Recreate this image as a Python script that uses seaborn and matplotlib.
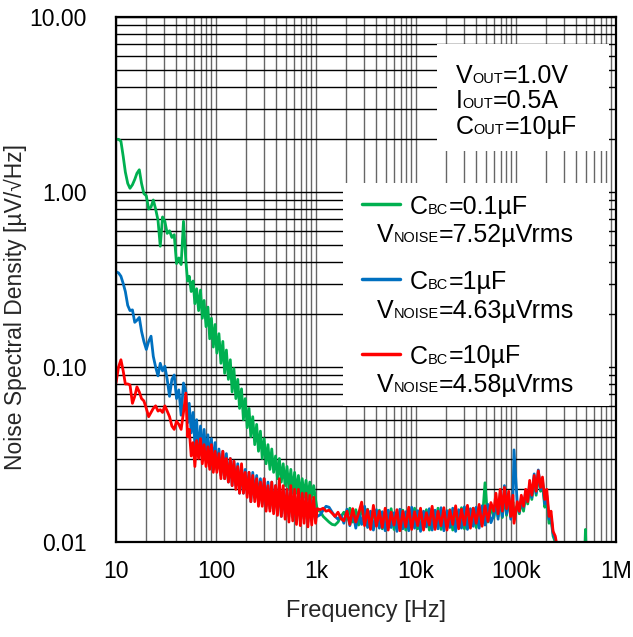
import matplotlib
matplotlib.use('Agg')
import matplotlib.pyplot as plt
from matplotlib import ticker
from matplotlib.patches import Rectangle
from matplotlib.lines import Line2D
from matplotlib.transforms import IdentityTransform
import pandas as pd
import seaborn as sns

# frequency points [Hz], shared by the three traces
freq = [
    # 10 - 50 Hz
    10, 10.6, 11.2, 11.8, 12.4, 13.1, 13.8, 14.6, 15.4, 16.2, 17.1, 18.0, 19.0, 20.1, 21.2,
    22.4, 23.6, 24.9, 26.3, 27.7, 29.2, 30.8, 32.5, 34.3, 36.2, 38.2, 40.3, 42.5, 44.8, 47.3,
    # 50 Hz - 1 kHz
    50, 52, 54, 56.5, 59, 61.5, 64, 67, 70, 73, 76, 79.5, 83, 86.5, 90, 94, 98, 102, 107, 112,
    117, 122, 127, 133, 139, 145, 151, 158, 165, 172, 180, 188, 196, 205, 214, 223, 233, 244, 255, 266,
    278, 290, 303, 317, 331, 346, 361, 377, 394, 412, 430, 450, 470, 491, 513, 536, 560, 585, 611, 638,
    667, 697, 728, 760, 795, 830, 867, 906, 947, 990,
    # 1 kHz - 56 kHz
    1030, 1100, 1180, 1260, 1350, 1450, 1550, 1660, 1780, 1900, 2040, 2180, 2330, 2500, 2670,
    2860, 3060, 3280, 3510, 3750, 4020, 4300, 4600, 4920, 5270, 5640, 6030, 6450, 6900, 7390,
    7900, 8460, 9050, 9680, 10400, 11100, 11900, 12700, 13600, 14500, 15500, 16600, 17800, 19000, 20400,
    21800, 23300, 24900, 26700, 28500, 30500, 32700, 35000, 37400, 40000, 42800, 45800, 49000, 52400, 56100,
    # 60 kHz - 260 kHz
    60000, 63000, 66200, 69500, 73000, 76600, 80400, 84500, 88700, 93100, 95500, 103000, 108000, 113000, 119000,
    125000, 131000, 137000, 144000, 152000, 159000, 167000, 176000, 184000, 194000, 203000, 214000, 224000, 235000, 247000,
    260000,
    # tail
    280000, 350000, 480000, 495000, 510000, 700000,
]

nsd_cbc_01 = [
    2.00, 2.00, 1.95, 1.60, 1.30, 1.12, 1.05, 1.10, 1.18, 1.28, 1.34, 1.12, 0.98, 0.95, 0.80,
    0.82, 0.90, 0.80, 0.69, 0.49, 0.72, 0.68, 0.58, 0.60, 0.55, 0.57, 0.39, 0.42, 0.385, 0.68,
    0.40, 0.31, 0.33, 0.27, 0.31, 0.23, 0.28, 0.21, 0.275, 0.19, 0.24, 0.17, 0.22, 0.145, 0.19, 0.13, 0.175, 0.12, 0.155, 0.105,
    0.14, 0.092, 0.125, 0.085, 0.11, 0.072, 0.098, 0.066, 0.085, 0.058, 0.075, 0.050, 0.066, 0.045, 0.058, 0.040, 0.052, 0.036, 0.047, 0.033,
    0.043, 0.030, 0.039, 0.028, 0.036, 0.026, 0.034, 0.025, 0.031, 0.023, 0.030, 0.022, 0.028, 0.021, 0.027, 0.020, 0.026, 0.019, 0.025, 0.019,
    0.024, 0.018, 0.023, 0.018, 0.0225, 0.0175, 0.022, 0.018, 0.021, 0.0175,
    0.0152, 0.0150, 0.0140, 0.0135, 0.0130, 0.0126, 0.0125, 0.0130, 0.0140, 0.0148, 0.0135, 0.0156, 0.0130, 0.0153, 0.0125,
    0.0160, 0.0130, 0.0154, 0.0122, 0.0150, 0.0125, 0.0152, 0.0119, 0.0147, 0.0123, 0.0155, 0.0118, 0.0146, 0.0122, 0.0152,
    0.0117, 0.0147, 0.0122, 0.0156, 0.0119, 0.0149, 0.0121, 0.0153, 0.0117, 0.0146, 0.0122, 0.0156, 0.0118, 0.0148, 0.0123,
    0.0153, 0.0117, 0.0146, 0.0122, 0.0157, 0.0119, 0.0151, 0.0123, 0.0156, 0.0121, 0.0154, 0.0128, 0.0218, 0.0130, 0.0158,
    0.0138, 0.0165, 0.0140, 0.0180, 0.0138, 0.0190, 0.0142, 0.0180, 0.0138, 0.0170, 0.0150, 0.0160, 0.0145, 0.0172, 0.0150,
    0.0185, 0.0165, 0.0205, 0.0175, 0.0230, 0.0185, 0.0250, 0.0195, 0.0215, 0.0158, 0.0175, 0.0128, 0.0135, 0.0108, 0.0100,
    0.0086,
    0.0080, 0.0070, 0.0068, 0.0118, 0.0068, 0.0060,
]

nsd_cbc_1 = [
    0.350, 0.345, 0.330, 0.300, 0.270, 0.225, 0.210, 0.212, 0.180, 0.185, 0.192, 0.160, 0.140, 0.126, 0.140,
    0.150, 0.115, 0.100, 0.089, 0.105, 0.095, 0.101, 0.085, 0.068, 0.085, 0.090, 0.066, 0.074, 0.053, 0.081,
    0.072, 0.048, 0.062, 0.042, 0.055, 0.036, 0.050, 0.031, 0.046, 0.030, 0.044, 0.030, 0.041, 0.027, 0.039, 0.026, 0.037, 0.026, 0.034, 0.024,
    0.033, 0.023, 0.032, 0.022, 0.030, 0.021, 0.029, 0.021, 0.028, 0.019, 0.027, 0.019, 0.026, 0.019, 0.025, 0.017, 0.025, 0.018, 0.024, 0.017,
    0.023, 0.0165, 0.023, 0.016, 0.022, 0.0155, 0.022, 0.015, 0.021, 0.015, 0.021, 0.0140, 0.020, 0.0145, 0.020, 0.0140, 0.020, 0.0138, 0.019, 0.0135,
    0.019, 0.0132, 0.019, 0.0136, 0.018, 0.0130, 0.0175, 0.0134, 0.017, 0.0138,
    0.0140, 0.0143, 0.0152, 0.0160, 0.0158, 0.0148, 0.0140, 0.0135, 0.0142, 0.0128, 0.0154, 0.0124, 0.0151, 0.0120, 0.0148,
    0.0126, 0.0160, 0.0121, 0.0150, 0.0117, 0.0153, 0.0120, 0.0149, 0.0116, 0.0152, 0.0121, 0.0147, 0.0115, 0.0154, 0.0119,
    0.0149, 0.0116, 0.0158, 0.0120, 0.0151, 0.0115, 0.0150, 0.0122, 0.0155, 0.0117, 0.0152, 0.0119, 0.0157, 0.0116, 0.0151,
    0.0121, 0.0156, 0.0115, 0.0153, 0.0120, 0.0159, 0.0118, 0.0155, 0.0123, 0.0158, 0.0120, 0.0161, 0.0125, 0.0164, 0.0129,
    0.0142, 0.0175, 0.0135, 0.0190, 0.0140, 0.0210, 0.0145, 0.0185, 0.0135, 0.0175, 0.0336, 0.0165, 0.0148, 0.0178, 0.0158,
    0.0195, 0.0172, 0.0215, 0.0180, 0.0245, 0.0190, 0.0258, 0.0200, 0.0225, 0.0165, 0.0185, 0.0135, 0.0140, 0.0112, 0.0104,
    0.0088,
    0.0078, 0.0068, 0.0064, 0.0062, 0.0060, 0.0055,
]

nsd_cbc_10 = [
    0.081, 0.100, 0.110, 0.095, 0.080, 0.080, 0.079, 0.062, 0.068, 0.077, 0.072, 0.066, 0.064, 0.058, 0.052,
    0.055, 0.058, 0.060, 0.056, 0.057, 0.055, 0.060, 0.056, 0.052, 0.046, 0.044, 0.049, 0.047, 0.044, 0.055,
    0.071, 0.040, 0.044, 0.031, 0.037, 0.027, 0.038, 0.030, 0.039, 0.028, 0.036, 0.027, 0.035, 0.026, 0.036, 0.025, 0.033, 0.025, 0.032, 0.023,
    0.033, 0.023, 0.030, 0.022, 0.030, 0.021, 0.029, 0.020, 0.027, 0.019, 0.028, 0.019, 0.025, 0.018, 0.025, 0.017, 0.024, 0.017, 0.023, 0.016,
    0.022, 0.016, 0.023, 0.015, 0.021, 0.015, 0.022, 0.0145, 0.021, 0.0142, 0.023, 0.0140, 0.021, 0.0135, 0.020, 0.0130, 0.021, 0.0132, 0.020, 0.0126,
    0.020, 0.0124, 0.019, 0.0128, 0.019, 0.0122, 0.0185, 0.0125, 0.018, 0.0128,
    0.0155, 0.0153, 0.0156, 0.0150, 0.0152, 0.0146, 0.0140, 0.0148, 0.0136, 0.0132, 0.0150, 0.0126, 0.0155, 0.0130, 0.0146,
    0.0169, 0.0124, 0.0153, 0.0118, 0.0162, 0.0123, 0.0150, 0.0121, 0.0156, 0.0117, 0.0148, 0.0125, 0.0153, 0.0116, 0.0150,
    0.0122, 0.0158, 0.0118, 0.0149, 0.0124, 0.0156, 0.0117, 0.0147, 0.0125, 0.0160, 0.0118, 0.0150, 0.0124, 0.0157, 0.0117,
    0.0152, 0.0126, 0.0161, 0.0119, 0.0154, 0.0125, 0.0162, 0.0120, 0.0156, 0.0128, 0.0164, 0.0123, 0.0161, 0.0131, 0.0168,
    0.0150, 0.0190, 0.0145, 0.0200, 0.0150, 0.0205, 0.0155, 0.0195, 0.0140, 0.0185, 0.0128, 0.0170, 0.0150, 0.0185, 0.0160,
    0.0200, 0.0170, 0.0225, 0.0185, 0.0240, 0.0195, 0.0255, 0.0205, 0.0235, 0.0175, 0.0200, 0.0140, 0.0150, 0.0115, 0.0108,
    0.0092,
    0.0080, 0.0070, 0.0066, 0.0064, 0.0062, 0.0056,
]

series_keys = ['0.1uF', '1uF', '10uF']
series_colors = ['#00B050', '#0070C0', '#FF0000']
cbc_labels = ['0.1µF', '1µF', '10µF']
vnoise_labels = ['7.52µVrms', '4.63µVrms', '4.58µVrms']
conditions = [('V', 'OUT', '=1.0V'), ('I', 'OUT', '=0.5A'), ('C', 'OUT', '=10µF')]

x_ticks = [10, 100, 1e3, 1e4, 1e5, 1e6]
x_ticklabels = ['10', '100', '1k', '10k', '100k', '1M']
y_ticks = [0.01, 0.1, 1, 10]
y_ticklabels = ['0.01', '0.10', '1.00', '10.00']

frames = []
for key, vals in zip(series_keys, [nsd_cbc_01, nsd_cbc_1, nsd_cbc_10]):
    frames.append(pd.DataFrame({'freq': freq, 'nsd': vals, 'cbc': key}))
df = pd.concat(frames, ignore_index=True)

sns.set_theme(style='white')
plt.rcParams['font.family'] = ['Liberation Sans', 'DejaVu Sans']

fig = plt.figure(figsize=(6.33, 6.37), dpi=100)
ax = fig.add_axes([116 / 633, 95 / 637, 500 / 633, 525 / 637])

sns.lineplot(data=df, x='freq', y='nsd', hue='cbc', hue_order=series_keys,
             palette=dict(zip(series_keys, series_colors)), estimator=None,
             sort=False, lw=2, legend=False, ax=ax)

ax.set_xscale('log')
ax.set_yscale('log')
ax.set_xlim(10, 1e6)
ax.set_ylim(0.01, 10)
ax.set_xticks(x_ticks)
ax.set_xticklabels(x_ticklabels)
ax.set_yticks(y_ticks)
ax.set_yticklabels(y_ticklabels)
ax.xaxis.set_minor_locator(ticker.LogLocator(base=10, subs=range(2, 10), numticks=20))
ax.yaxis.set_minor_locator(ticker.LogLocator(base=10, subs=range(2, 10), numticks=20))
ax.xaxis.set_minor_formatter(ticker.NullFormatter())
ax.yaxis.set_minor_formatter(ticker.NullFormatter())
ax.tick_params(which='both', length=0, labelsize=16.5, colors='black')
ax.tick_params(axis='y', pad=21)
ax.tick_params(axis='x', pad=13)

ax.set_axisbelow(True)
ax.grid(which='both', axis='y', color='black', lw=1.0)
ax.grid(which='both', axis='x', color='#666666', lw=1.0)
for sp in ax.spines.values():
    sp.set_color('black')
    sp.set_linewidth(1.6)

ax.set_xlabel('Frequency [Hz]', fontsize=17, labelpad=12)
ax.set_ylabel('Noise Spectral Density [µV/√Hz]', fontsize=16.5)
ax.yaxis.set_label_coords(-0.178, 0.447)

# white panels for conditions box and legend
ax.add_patch(Rectangle((0.642, 0.745), 0.344, 0.204, transform=ax.transAxes,
                       facecolor='white', edgecolor='none', zorder=4))
ax.add_patch(Rectangle((0.454, 0.259), 0.532, 0.425, transform=ax.transAxes,
                       facecolor='white', edgecolor='none', zorder=4))


def rich_text(x, y, parts, size, sub=0.58):
    # draw pieces on one baseline; subscripts are just smaller text
    renderer = fig.canvas.get_renderer()
    px, py = ax.transAxes.transform((x, y))
    for s, small in parts:
        t = ax.text(px, py, s, transform=IdentityTransform(), fontsize=size * sub if small else size,
                    ha='left', va='baseline', color='black', zorder=6)
        px += t.get_window_extent(renderer).width


for i, (a, b, c) in enumerate(conditions):
    rich_text(0.679, 0.875 - i * 0.049, [(a, False), (b, True), (c, False)], 18)

key_y = [0.644, 0.501, 0.359]
for i in range(3):
    ax.add_line(Line2D([0.492, 0.568], [key_y[i], key_y[i]], transform=ax.transAxes,
                       color=series_colors[i], lw=2.5, zorder=6))
    rich_text(0.588, key_y[i] - 0.019, [('C', False), ('BC', True), ('=' + cbc_labels[i], False)], 18)
    rich_text(0.522, key_y[i] - 0.0735, [('V', False), ('NOISE', True), ('=' + vnoise_labels[i], False)], 18)

fig.savefig('out.png', dpi=100)
